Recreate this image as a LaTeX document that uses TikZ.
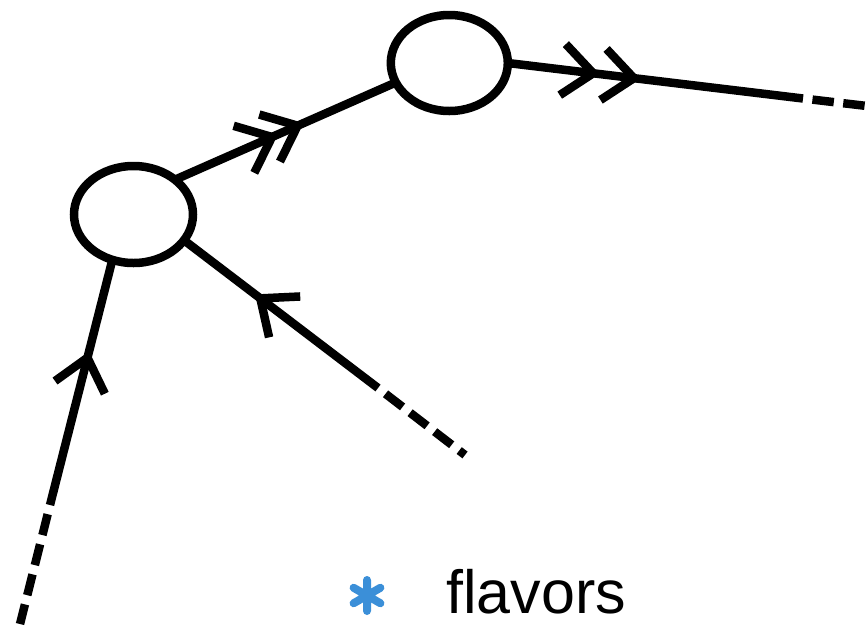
\documentclass[tikz,border=0pt]{standalone}
\usepackage{fontspec}
\newfontfamily\legendfont{Liberation Sans}
\usetikzlibrary{shapes.geometric,decorations.markings}
\definecolor{starblue}{RGB}{59,143,216}
\newcommand{\chevfwd}{\draw[line width=8.5pt,line cap=butt,line join=miter] (-30.6pt,25.7pt) -- (0pt,0pt) -- (-30.6pt,-25.7pt);}
\newcommand{\chevbwd}{\draw[line width=8.5pt,line cap=butt,line join=miter] (30.6pt,25.7pt) -- (0pt,0pt) -- (30.6pt,-25.7pt);}
\tikzset{
  nodeell/.style={ellipse, draw, line width=8.5pt, inner sep=0pt, outer sep=0pt},
  conn/.style={line width=8.5pt, line cap=butt},
  tailline/.style={line width=8.5pt, line cap=butt, dash pattern=on 21.5pt off 9.5pt, dash phase=21.5pt},
  fwd at/.style={postaction={decorate, decoration={markings, mark=at position #1 with {\chevfwd}}}},
  bwd at/.style={postaction={decorate, decoration={markings, mark=at position #1 with {\chevbwd}}}},
  starline/.style={line width=8pt, line cap=round, draw=starblue},
}
\begin{document}
\begin{tikzpicture}[x=1pt,y=-1pt]
\useasboundingbox (0,0) rectangle (867,625);
% nodes
\node[nodeell, minimum width=119pt, minimum height=97pt] (e1) at (133.5,214.5) {};
\node[nodeell, minimum width=117pt, minimum height=96pt] (e2) at (449.3,63) {};
% free ends
\coordinate (b1) at (50,505);
\coordinate (b2) at (20,624);
\coordinate (b3) at (378,388);
\coordinate (b4) at (465,455);
\coordinate (b5) at (803,98.5);
\coordinate (b6) at (867,106);
% connectors
\draw[conn, fwd at=106pt, fwd at=134pt] (e1.40) -- (e2.200);
\draw[conn, fwd at=86pt, fwd at=127pt] (e2.east) -- (b5);
\draw[tailline] (b5) -- (b6);
\draw[conn, bwd at=96pt] (e1.-27) -- (b3);
\draw[tailline] (b3) -- (b4);
\draw[conn, bwd at=101pt] (e1.-115) -- (b1);
\draw[tailline] (b1) -- (b2);
% legend
\coordinate (star) at (367,595.5);
\draw[starline, shift={(star)}] (0,-15.5) -- (0,15.5) (-13.4,-7.75) -- (13.4,7.75) (-13.4,7.75) -- (13.4,-7.75);
\node[anchor=base west, inner sep=0pt, font=\legendfont\fontsize{61}{61}\selectfont] (legend) at (446,613) {flavors};
\end{tikzpicture}
\end{document}
